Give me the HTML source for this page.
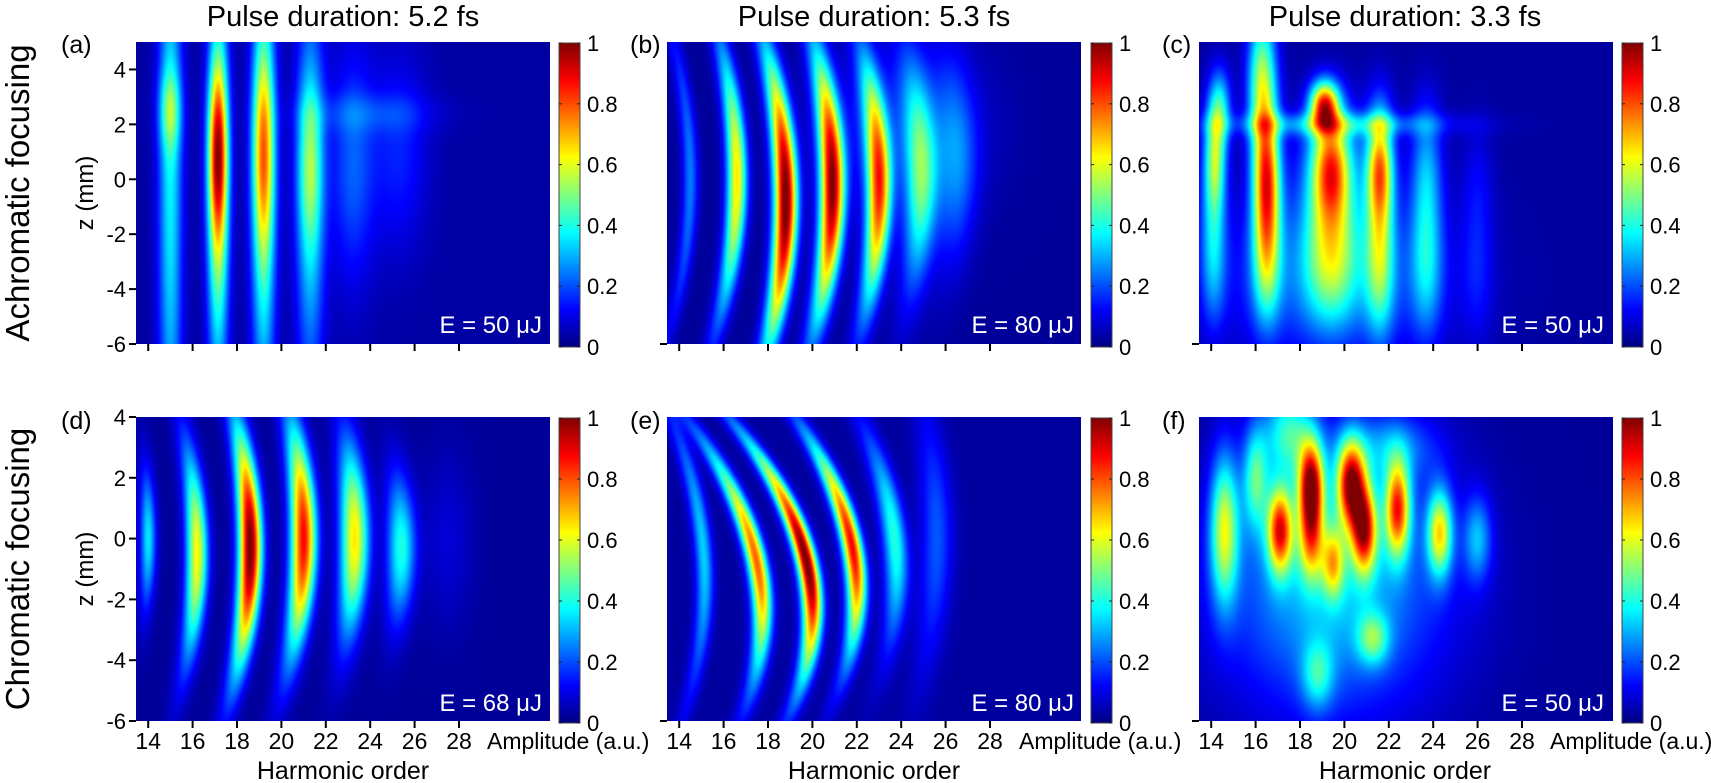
<!DOCTYPE html>
<html><head><meta charset="utf-8"><title>HHG harmonic order vs z maps</title>
<style>
html,body{margin:0;padding:0;background:#fff;}
#fig{position:relative;width:1711px;height:783px;overflow:hidden;background:#fff;font-family:"Liberation Sans",Arial,sans-serif;}
canvas{position:absolute;}
svg{position:absolute;left:0;top:0;}
</style></head>
<body>
<div id="fig">
<canvas id="cA"></canvas>
<canvas id="cB"></canvas>
<canvas id="cC"></canvas>
<canvas id="cD"></canvas>
<canvas id="cE"></canvas>
<canvas id="cF"></canvas>
<svg id="ov" width="1711" height="783" xmlns="http://www.w3.org/2000/svg" font-family="Liberation Sans, Arial, sans-serif">
<defs>
<linearGradient id="jet" x1="0" y1="1" x2="0" y2="0">
<stop offset="0" stop-color="#000080"/><stop offset="0.125" stop-color="#0000ff"/>
<stop offset="0.375" stop-color="#00ffff"/><stop offset="0.625" stop-color="#ffff00"/>
<stop offset="0.875" stop-color="#ff0000"/><stop offset="1" stop-color="#800000"/>
</linearGradient>
</defs>
<text x="343" y="26" font-size="29" text-anchor="middle">Pulse duration: 5.2 fs</text>
<text x="874" y="26" font-size="29" text-anchor="middle">Pulse duration: 5.3 fs</text>
<text x="1405" y="26" font-size="29" text-anchor="middle">Pulse duration: 3.3 fs</text>
<text transform="translate(29,193) rotate(-90)" font-size="33" text-anchor="middle">Achromatic focusing</text>
<text transform="translate(29,569) rotate(-90)" font-size="33" text-anchor="middle">Chromatic focusing</text>
<text transform="translate(93,193) rotate(-90)" font-size="24" text-anchor="middle">z (mm)</text>
<text transform="translate(93,569) rotate(-90)" font-size="24" text-anchor="middle">z (mm)</text>
<text x="61" y="53" font-size="25">(a)</text>
<text x="630" y="53" font-size="25">(b)</text>
<text x="1162" y="53" font-size="25">(c)</text>
<text x="61" y="429" font-size="25">(d)</text>
<text x="630" y="429" font-size="25">(e)</text>
<text x="1162" y="429" font-size="25">(f)</text>
<text x="542" y="333" font-size="24" fill="#fff" text-anchor="end">E = 50 μJ</text>
<text x="1074" y="333" font-size="24" fill="#fff" text-anchor="end">E = 80 μJ</text>
<text x="1604" y="333" font-size="24" fill="#fff" text-anchor="end">E = 50 μJ</text>
<text x="542" y="711" font-size="24" fill="#fff" text-anchor="end">E = 68 μJ</text>
<text x="1074" y="711" font-size="24" fill="#fff" text-anchor="end">E = 80 μJ</text>
<text x="1604" y="711" font-size="24" fill="#fff" text-anchor="end">E = 50 μJ</text>
<text x="343" y="779" font-size="25" text-anchor="middle">Harmonic order</text>
<text x="874" y="779" font-size="25" text-anchor="middle">Harmonic order</text>
<text x="1405" y="779" font-size="25" text-anchor="middle">Harmonic order</text>
<text x="487" y="749" font-size="23">Amplitude (a.u.)</text>
<text x="1019" y="749" font-size="23">Amplitude (a.u.)</text>
<text x="1550" y="749" font-size="23">Amplitude (a.u.)</text>
<g id="axes"></g>
</svg>
</div>
<script>
// ---- shared axis data ----
const xTicks = [14,16,18,20,22,24,26,28];
const yTicksTop = [4,2,0,-2,-4,-6];
const yTicksBottom = [4,2,0,-2,-4,-6];
const cbTicks = [0,0.2,0.4,0.6,0.8,1];
const cbLabels = ["0","0.2","0.4","0.6","0.8","1"];
const hRange = [13.45,32.1];

// ---- panel (a) ----
const aH   = [15.0,15.0,17.15,17.15,19.2,19.2,21.3,21.3,23.2,25.3,24.0];
const aZ   = [0,2.5,-0.5,1,0,1,-0.5,0.5,0.5,1,2.4];
const aHS  = [0.38,0.35,0.34,0.3,0.38,0.34,0.45,0.4,0.7,0.9,2.2];
const aZS  = [8,1,5,2.2,6,2.5,5,2,3,2.5,0.5];
const aAmp = [0.33,0.22,0.5,0.5,0.42,0.35,0.32,0.2,0.18,0.12,0.08];
const aCurv= [0,0,0,0,0,0,0,0,0,0,0];
const aTilt= [0,0,0,0,0,0,0,0,0,0,0];
const aP   = [2,2,2,2,2,2,2,2,2,2,2];
// ---- panel (b) ----
const bH   = [14.5,16.6,18.8,20.9,23.0,24.9,26.5,24.0];
const bZ   = [0,0,-0.8,-0.3,-0.3,0,0.5,2];
const bHS  = [0.25,0.32,0.36,0.38,0.38,0.5,0.65,2.5];
const bZS  = [4,3.4,3.6,3.3,3.0,2.8,2.6,2.2];
const bAmp = [0.22,0.62,1.0,0.95,0.78,0.42,0.2,0.12];
const bCurv= [0.03,0.03,0.028,0.028,0.028,0.025,0.02,0];
const bTilt= [0,0,0,0,0,0,0,0];
const bP   = [2,2,2,2,2,2,2,2];
// ---- panel (c) ----
const cH   = [14.1,14.2,16.5,16.5,16.3,19.1,19.4,19.4,21.6,21.6,23.7,26.0,14.4,19.5,19.5];
const cZ   = [-1.2,0.7,-1.2,-0.3,3.6,2.7,-1.2,0.4,-1.4,0.4,-1.4,-2,2.6,2.0,-3.5];
const cHS  = [0.4,0.3,0.45,0.4,0.45,0.45,0.85,0.55,0.45,0.4,0.5,0.5,0.35,3.5,3.5];
const cZS  = [3.0,1.3,3.0,1.6,1.8,0.6,3.0,1.3,3.2,1.3,3.2,3,1.0,0.3,2.2];
const cAmp = [0.3,0.25,0.5,0.3,0.5,0.7,0.45,0.4,0.42,0.35,0.3,0.1,0.3,0.22,0.2];
const cCurv= [0,0,0,0,0,0,0,0,0,0,0,0,0,0,0];
const cTilt= [0,0,0,0,0,0,0,0,0,0,0,0,0,0,0];
const cP   = [3,2,3,2,2,2,3,2,3,2,3,3,2,2,2];
// ---- panel (d) ----
const dH   = [14.0,16.2,18.6,21.0,23.3,25.4,27.5];
const dZ   = [0,-0.5,-0.3,0,0,-0.3,0];
const dHS  = [0.25,0.34,0.36,0.4,0.45,0.45,0.8];
const dZS  = [1.6,2.4,2.7,2.6,2.2,1.7,2];
const dAmp = [0.33,0.6,1.0,0.85,0.62,0.38,0.06];
const dCurv= [0.02,0.035,0.035,0.035,0.03,0.03,0];
const dTilt= [0,0,0,0,0,0,0];
const dP   = [2,2,2,2,2,2,2];
// ---- panel (e) ----
const eH   = [15.1,17.5,19.75,21.8,23.7,25.6];
const eZ   = [-0.5,-0.8,-0.8,-0.3,0,0];
const eHS  = [0.28,0.32,0.32,0.32,0.38,0.5];
const eZS  = [3.2,2.6,2.6,2.4,2.4,3];
const eAmp = [0.3,0.75,1.0,0.85,0.38,0.18];
const eCurv= [0.05,0.08,0.09,0.08,0.06,0.03];
const eTilt= [0.1,0.28,0.3,0.25,0.15,0];
const eP   = [2,2,2,2,2,2];
// ---- panel (f) ----
const fH   = [14.6,16.0,17.1,18.5,18.5,19.5,20.3,20.9,22.4,24.3,26.0,17.5,19.5,22.0,18.8,21.3];
const fZ   = [0.3,2.0,0.3,1.8,0,-0.8,1.8,0.3,1.0,0.2,0,3.5,-1.5,3,-4.5,-3.3];
const fHS  = [0.45,0.4,0.4,0.4,0.4,0.35,0.45,0.4,0.4,0.4,0.45,0.8,3.5,1.5,0.5,0.5];
const fZS  = [1.7,1.2,1.0,1.0,1,0.8,1.0,1.0,1.1,1.0,1,1,3.0,0.8,0.8,0.6];
const fAmp = [0.5,0.35,0.7,0.8,0.45,0.4,0.8,0.7,0.7,0.55,0.25,0.35,0.3,0.2,0.25,0.3];
const fCurv= [0,0,0,0,0,0,0,0,0,0,0,0,0,0,0,0];
const fTilt= [0,0,0,0,0,0,0,0,0,0,0,0,0,0,0,0];
const fP   = [2,2,2,2,2,2,2,2,2,2,2,2,2,2,2,2];

const floors = [0.035,0.025,0.03,0.025,0.03,0.025];

// ---- layout (not data) ----
const colX = [136,667,1199], panelW = 414;
const rowY = [42,417], rowH = [302,304];
const rowZ = [[-6,5],[-6,4]];
const cbX = [559,1091,1622], cbW = 21;
const cbY = [[43,347],[418,723]];

function jet(v){
  v = Math.max(0,Math.min(1,v));
  const c = t => Math.max(0,Math.min(1,1.5-Math.abs(4*v-t)));
  return [c(3)*255,c(2)*255,c(1)*255];
}
function drawPanel(id,col,row,H,Z,HS,ZS,AMP,CURV,TILT,P,floor){
  const cv = document.getElementById(id);
  const W = panelW, Ht = rowH[row];
  cv.width = W; cv.height = Ht;
  cv.style.left = colX[col]+'px'; cv.style.top = rowY[row]+'px';
  const ctx = cv.getContext('2d');
  const img = ctx.createImageData(W,Ht);
  const [zmin,zmax] = rowZ[row];
  const xS = i => hRange[0] + (i+0.5)/W*(hRange[1]-hRange[0]);
  const yS = j => zmax - (j+0.5)/Ht*(zmax-zmin);
  for(let j=0;j<Ht;j++){
    const z = yS(j);
    for(let i=0;i<W;i++){
      const h = xS(i);
      let v = floor;
      for(let k=0;k<H.length;k++){
        const dz = z - Z[k];
        const hc = H[k] - CURV[k]*dz*dz - TILT[k]*dz;
        const u = (h-hc)/HS[k];
        if (Math.abs(u) > 5) continue;
        v += AMP[k]*Math.exp(-0.5*u*u)*Math.exp(-0.5*Math.pow(Math.abs(dz/ZS[k]),P[k]));
      }
      const [r,g,b] = jet(v);
      const o = (j*W+i)*4;
      img.data[o]=r; img.data[o+1]=g; img.data[o+2]=b; img.data[o+3]=255;
    }
  }
  ctx.putImageData(img,0,0);
}
drawPanel('cA',0,0,aH,aZ,aHS,aZS,aAmp,aCurv,aTilt,aP,floors[0]);
drawPanel('cB',1,0,bH,bZ,bHS,bZS,bAmp,bCurv,bTilt,bP,floors[1]);
drawPanel('cC',2,0,cH,cZ,cHS,cZS,cAmp,cCurv,cTilt,cP,floors[2]);
drawPanel('cD',0,1,dH,dZ,dHS,dZS,dAmp,dCurv,dTilt,dP,floors[3]);
drawPanel('cE',1,1,eH,eZ,eHS,eZS,eAmp,eCurv,eTilt,eP,floors[4]);
drawPanel('cF',2,1,fH,fZ,fHS,fZS,fAmp,fCurv,fTilt,fP,floors[5]);

// ---- axes, ticks, colorbars ----
const NS = 'http://www.w3.org/2000/svg';
const g = document.getElementById('axes');
function mk(tag, attrs){
  const e = document.createElementNS(NS,tag);
  for (const k in attrs) e.setAttribute(k,attrs[k]);
  g.appendChild(e);
  return e;
}
for (let r=0;r<2;r++){
  const [zmin,zmax] = rowZ[r];
  const zToY = z => rowY[r] + (zmax - z)/(zmax-zmin)*rowH[r];
  const bottom = rowY[r]+rowH[r];
  for (let c=0;c<3;c++){
    const hToX = h => colX[c] + (h-hRange[0])/(hRange[1]-hRange[0])*panelW;
    xTicks.forEach(t=>{
      const tk = mk('line',{x1:hToX(t),x2:hToX(t),y1:bottom,y2:bottom+7,stroke:'#000','stroke-width':2});
      
      
      if (r===1){
        const lb = mk('text',{x:hToX(t),y:749,'font-size':23,'text-anchor':'middle'});
        lb.textContent = t;
        
        
      }
    });
    if (c===0){
      const yt = r===0 ? yTicksTop : yTicksBottom;
      yt.forEach(t=>{
        const tk = mk('line',{x1:colX[c]-7,x2:colX[c],y1:zToY(t),y2:zToY(t),stroke:'#000','stroke-width':2});
        
        
        const lb = mk('text',{x:colX[c]-10,y:zToY(t)+8,'font-size':22,'text-anchor':'end'});
        lb.textContent = t;
        
        
      });
    } else {
      const tk = mk('line',{x1:colX[c]-7,x2:colX[c],y1:zToY(-6),y2:zToY(-6),stroke:'#000','stroke-width':2});
      
      
    }
    const [cy0,cy1] = cbY[r];
    const cb = mk('rect',{x:cbX[c],y:cy0,width:cbW,height:cy1-cy0,fill:'url(#jet)',stroke:'#444','stroke-width':1});
    
    
    cbTicks.forEach((t,i)=>{
      const y = cy1 - t*(cy1-cy0);
      const t1 = mk('line',{x1:cbX[c],x2:cbX[c]+3,y1:y,y2:y,stroke:'#222','stroke-width':1});
      
      
      const t2 = mk('line',{x1:cbX[c]+cbW-3,x2:cbX[c]+cbW,y1:y,y2:y,stroke:'#222','stroke-width':1});
      
      
      const lb = mk('text',{x:cbX[c]+cbW+7,y:y+8,'font-size':22});
      lb.textContent = cbLabels[i];
      
      
    });
  }
}
</script>
</body></html>
